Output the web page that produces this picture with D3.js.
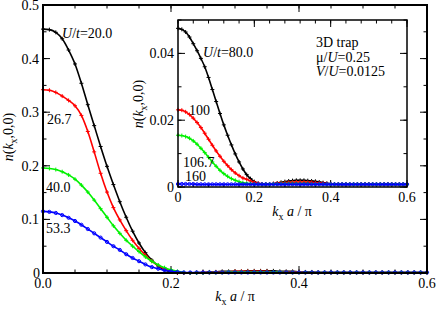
<!DOCTYPE html>
<html>
<head>
<meta charset="utf-8">
<script src="https://cdn.jsdelivr.net/npm/d3@7"></script>
<style>
  body { margin: 0; background: #fff; }
  svg { display: block; }
  text { font-family: "Liberation Serif", "DejaVu Serif", serif; font-size: 14px; fill: #000; }
</style>
</head>
<body>
<svg width="436" height="310"></svg>
<script>
// momentum grid, k_x a / pi, steps of 0.01
const kx = d3.range(61).map(i => i / 100);

// main panel, U/t = 20.0, 26.7, 40.0, 53.3
const n20 = [
  0.455,0.454,0.449,0.437,0.416,0.390,0.354,0.314,0.275,0.236,
  0.199,0.165,0.133,0.104,0.078,0.056,0.038,0.024,0.013,0.006,
  0.002,0.000,0.000,0.000,0.001,0.001,0.002,0.002,0.003,0.003,
  0.003,0.003,0.004,0.004,0.004,0.004,0.004,0.003,0.003,0.003,
  0.002,0.002,0.002,0.001,0.001,0.001,0.001,0.001,0.001,0.001,
  0.001,0.001,0.001,0.001,0.001,0.001,0.001,0.001,0.001,0.001,
  0.001];
const n267 = [
  0.342,0.341,0.337,0.330,0.322,0.312,0.294,0.264,0.226,0.186,
  0.151,0.122,0.099,0.079,0.061,0.046,0.033,0.022,0.014,0.008,
  0.004,0.001,0.000,0.000,0.000,0.001,0.001,0.002,0.002,0.002,
  0.003,0.003,0.003,0.003,0.003,0.003,0.002,0.002,0.002,0.002,
  0.002,0.001,0.001,0.001,0.001,0.001,0.001,0.001,0.001,0.001,
  0.001,0.001,0.001,0.001,0.001,0.001,0.001,0.001,0.001,0.001,
  0.001];
const n40 = [
  0.196,0.195,0.193,0.189,0.183,0.175,0.164,0.151,0.136,0.120,
  0.104,0.088,0.074,0.061,0.050,0.040,0.030,0.022,0.015,0.010,
  0.006,0.003,0.001,0.000,0.000,0.000,0.001,0.001,0.001,0.002,
  0.002,0.002,0.002,0.002,0.002,0.002,0.002,0.002,0.001,0.001,
  0.001,0.001,0.001,0.001,0.001,0.001,0.001,0.001,0.001,0.001,
  0.001,0.001,0.001,0.001,0.001,0.001,0.001,0.001,0.001,0.001,
  0.001];
const n533 = [
  0.115,0.114,0.112,0.108,0.103,0.097,0.090,0.082,0.074,0.066,
  0.058,0.050,0.043,0.035,0.028,0.022,0.016,0.011,0.008,0.005,
  0.003,0.002,0.001,0.001,0.001,0.001,0.001,0.001,0.001,0.001,
  0.001,0.001,0.001,0.001,0.001,0.001,0.001,0.001,0.001,0.001,
  0.001,0.001,0.001,0.001,0.001,0.001,0.001,0.001,0.001,0.001,
  0.001,0.001,0.001,0.001,0.001,0.001,0.001,0.001,0.001,0.001,
  0.001];

// inset, U/t = 80.0, 100, 106.7, 160
const n80 = [
  0.0475,0.0472,0.0464,0.0449,0.0429,0.0408,0.0385,0.0360,0.0328,0.0292,
  0.0256,0.0220,0.0186,0.0155,0.0126,0.0099,0.0075,0.0054,0.0037,0.0025,
  0.0016,0.0011,0.0008,0.0008,0.0009,0.0010,0.0012,0.0014,0.0016,0.0018,
  0.0019,0.0020,0.0020,0.0020,0.0019,0.0018,0.0017,0.0015,0.0013,0.0011,
  0.0010,0.0009,0.0008,0.0008,0.0008,0.0008,0.0008,0.0008,0.0008,0.0008,
  0.0008,0.0008,0.0008,0.0008,0.0008,0.0008,0.0008,0.0008,0.0008,0.0008,
  0.0008];
const n100 = [
  0.0231,0.0230,0.0225,0.0217,0.0206,0.0193,0.0178,0.0161,0.0143,0.0125,
  0.0108,0.0092,0.0077,0.0064,0.0052,0.0042,0.0034,0.0027,0.0023,0.0018,
  0.0014,0.0011,0.0009,0.0008,0.0009,0.0010,0.0011,0.0012,0.0013,0.0014,
  0.0014,0.0015,0.0015,0.0015,0.0014,0.0014,0.0013,0.0012,0.0011,0.0010,
  0.0009,0.0008,0.0008,0.0008,0.0008,0.0008,0.0008,0.0008,0.0008,0.0008,
  0.0008,0.0008,0.0008,0.0008,0.0008,0.0008,0.0008,0.0008,0.0008,0.0008,
  0.0008];
const n1067 = [
  0.0155,0.0154,0.0151,0.0146,0.0138,0.0128,0.0116,0.0103,0.0089,0.0075,
  0.0062,0.0050,0.0040,0.0032,0.0025,0.0020,0.0016,0.0013,0.0011,0.0010,
  0.0009,0.0008,0.0008,0.0008,0.0008,0.0009,0.0009,0.0010,0.0010,0.0010,
  0.0010,0.0010,0.0010,0.0010,0.0010,0.0009,0.0009,0.0009,0.0008,0.0008,
  0.0008,0.0008,0.0008,0.0008,0.0008,0.0008,0.0008,0.0008,0.0008,0.0008,
  0.0008,0.0008,0.0008,0.0008,0.0008,0.0008,0.0008,0.0008,0.0008,0.0008,
  0.0008];
const n160 = [
  0.0009,0.0009,0.0009,0.0009,0.0009,0.0008,0.0008,0.0008,0.0008,0.0008,
  0.0008,0.0008,0.0008,0.0008,0.0008,0.0008,0.0008,0.0008,0.0008,0.0008,
  0.0008,0.0008,0.0008,0.0008,0.0008,0.0008,0.0008,0.0008,0.0008,0.0008,
  0.0008,0.0008,0.0008,0.0008,0.0008,0.0008,0.0008,0.0008,0.0008,0.0008,
  0.0008,0.0008,0.0008,0.0008,0.0008,0.0008,0.0008,0.0008,0.0008,0.0008,
  0.0008,0.0008,0.0008,0.0008,0.0008,0.0008,0.0008,0.0008,0.0008,0.0008,
  0.0008];

const mainLabels = ["U/t=20.0", "26.7", "40.0", "53.3"];
const insetLabels = ["U/t=80.0", "100", "106.7", "160"];
const colors = ["#000000", "#ff0000", "#00f000", "#0000ff"];
const mainXTicks = [0, 0.2, 0.4, 0.6];
const mainYTicks = [0, 0.1, 0.2, 0.3, 0.4, 0.5];
const insetXTicks = [0, 0.2, 0.4, 0.6];
const insetYTicks = [0, 0.02, 0.04];
const trapInfo = ["3D trap", "μ/U=0.25", "V/U=0.0125"];

const svg = d3.select("svg");

function panel(box, xDom, yDom, xMajor, xMinor, yMajor, yMinor, xFmt, yFmt, frameW) {
  const x = d3.scaleLinear().domain(xDom).range([box.l, box.r]);
  const y = d3.scaleLinear().domain(yDom).range([box.b, box.t]);
  const g = svg.append("g");
  g.append("rect").attr("x", box.l).attr("y", box.t)
    .attr("width", box.r - box.l).attr("height", box.b - box.t)
    .attr("fill", "#fff");
  const ax = g.append("g");
  // inward ticks on all four sides
  const tick = (vals, len, horiz) => vals.forEach(v => {
    if (horiz) {
      const px = x(v);
      ax.append("line").attr("x1", px).attr("x2", px).attr("y1", box.b).attr("y2", box.b - len);
      ax.append("line").attr("x1", px).attr("x2", px).attr("y1", box.t).attr("y2", box.t + len);
    } else {
      const py = y(v);
      ax.append("line").attr("y1", py).attr("y2", py).attr("x1", box.l).attr("x2", box.l + len);
      ax.append("line").attr("y1", py).attr("y2", py).attr("x1", box.r).attr("x2", box.r - len);
    }
  });
  tick(xMinor, 3.5, true); tick(xMajor, 7, true);
  tick(yMinor, 3.5, false); tick(yMajor, 7, false);
  ax.selectAll("line").attr("stroke", "#000").attr("stroke-width", 1);
  g.append("g").selectAll("text").data(xMajor).join("text")
    .attr("x", d => x(d)).attr("y", box.b + 15).attr("text-anchor", "middle").text(xFmt);
  g.append("g").selectAll("text").data(yMajor).join("text")
    .attr("x", box.l - 4).attr("y", d => y(d) + 5).attr("text-anchor", "end").text(yFmt);
  return {x, y, g, frame: () => g.append("rect").attr("x", box.l).attr("y", box.t)
    .attr("width", box.r - box.l).attr("height", box.b - box.t)
    .attr("fill", "none").attr("stroke", "#000").attr("stroke-width", frameW)};
}

function drawSeries(p, series) {
  const line = d3.line().x((d, i) => p.x(kx[i])).y(d => p.y(d)).curve(d3.curveMonotoneX);
  series.forEach((s, k) => {
    const c = colors[k];
    p.g.append("path").datum(s).attr("d", line)
      .attr("fill", "none").attr("stroke", c).attr("stroke-width", 1.6);
    const m = p.g.append("g").attr("stroke", c).attr("fill", "none").attr("stroke-width", 1);
    s.forEach((v, i) => {
      const px = p.x(kx[i]), py = p.y(v);
      if (k === 3) {
        m.append("circle").attr("cx", px).attr("cy", py).attr("r", 1.6);
      } else {
        m.append("path").attr("d", `M${px - 2},${py}h4M${px},${py - 2}v4`);
      }
    });
  });
}

function axisLabel(g, x0, y0, rotate) {
  const t = g.append("text").attr("text-anchor", "middle")
    .attr("transform", `translate(${x0},${y0})` + (rotate ? " rotate(-90)" : ""));
  return t;
}

// ---------- main panel ----------
const main = panel({l: 43, r: 427, t: 5, b: 273}, [0, 0.6], [0, 0.5],
  mainXTicks, d3.range(0, 0.601, 0.05), mainYTicks, d3.range(0, 0.501, 0.05),
  d => d3.format(".1f")(d), d => d === 0 ? "0" : d3.format(".1f")(d), 2);
main.g.selectAll("text").filter(function () { return this.textContent === "0"; }).attr("x", 40);
drawSeries(main, [n20, n267, n40, n533]);
main.frame();

const xl = axisLabel(svg, 235, 301, false);
xl.append("tspan").attr("font-style", "italic").text("k");
xl.append("tspan").attr("font-size", 10).attr("dy", 4).text("x");
xl.append("tspan").attr("dy", -4).attr("font-style", "italic").text(" a");
xl.append("tspan").text(" / π");

const yl = axisLabel(svg, 13, 137, true);
yl.append("tspan").attr("font-style", "italic").text("n");
yl.append("tspan").text("(");
yl.append("tspan").attr("font-style", "italic").text("k");
yl.append("tspan").attr("font-size", 10).attr("dy", 4).text("x");
yl.append("tspan").attr("dy", -4).text(",0,0)");

function curveLabel(x0, y0, txt) {
  const t = svg.append("text").attr("x", x0).attr("y", y0);
  if (txt.startsWith("U/t")) {
    t.append("tspan").attr("font-style", "italic").text("U");
    t.append("tspan").text("/");
    t.append("tspan").attr("font-style", "italic").text("t");
    t.append("tspan").text(txt.slice(3));
  } else t.text(txt);
}
curveLabel(62, 38, mainLabels[0]);
curveLabel(47, 124, mainLabels[1]);
curveLabel(46, 192, mainLabels[2]);
curveLabel(46, 233, mainLabels[3]);

// ---------- inset ----------
const inset = panel({l: 178, r: 407, t: 20, b: 187}, [0, 0.6], [0, 0.05],
  insetXTicks, d3.range(0, 0.601, 0.04), insetYTicks, d3.range(0, 0.0501, 0.01),
  d => d === 0 ? "0" : d3.format(".1f")(d), d => d === 0 ? "0" : d3.format(".2f")(d), 1.5);
drawSeries(inset, [n80, n100, n1067, n160]);
inset.frame();

const ixl = axisLabel(svg, 292, 216, false);
ixl.append("tspan").attr("font-style", "italic").text("k");
ixl.append("tspan").attr("font-size", 10).attr("dy", 4).text("x");
ixl.append("tspan").attr("dy", -4).attr("font-style", "italic").text(" a");
ixl.append("tspan").text(" / π");

const iyl = axisLabel(svg, 143, 104, true);
iyl.append("tspan").attr("font-style", "italic").text("n");
iyl.append("tspan").text("(");
iyl.append("tspan").attr("font-style", "italic").text("k");
iyl.append("tspan").attr("font-size", 10).attr("dy", 4).text("x");
iyl.append("tspan").attr("dy", -4).text(",0,0)");

curveLabel(203, 57, insetLabels[0]);
curveLabel(189, 115, insetLabels[1]);
curveLabel(183, 167, insetLabels[2]);
curveLabel(185, 181, insetLabels[3]);

// trap parameters
const info = svg.append("g");
const t0 = info.append("text").attr("x", 316).attr("y", 47).text(trapInfo[0]);
const t1 = info.append("text").attr("x", 316).attr("y", 62);
t1.append("tspan").text("μ/");
t1.append("tspan").attr("font-style", "italic").text("U");
t1.append("tspan").text("=0.25");
const t2 = info.append("text").attr("x", 316).attr("y", 76);
t2.append("tspan").attr("font-style", "italic").text("V");
t2.append("tspan").text("/");
t2.append("tspan").attr("font-style", "italic").text("U");
t2.append("tspan").text("=0.0125");
</script>
</body>
</html>
